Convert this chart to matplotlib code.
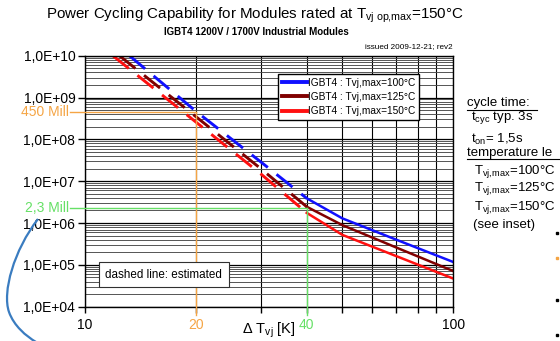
import numpy as np
import matplotlib
matplotlib.use('Agg')
import matplotlib.pyplot as plt
from matplotlib.lines import Line2D
from matplotlib.path import Path
from matplotlib.patches import PathPatch
from matplotlib.ticker import LogLocator, FuncFormatter, NullFormatter

plt.rcParams['font.family'] = ['Liberation Sans', 'DejaVu Sans']
plt.rcParams['mathtext.fontset'] = 'custom'
plt.rcParams['mathtext.rm'] = 'Liberation Sans'
plt.rcParams['mathtext.it'] = 'Liberation Sans:italic'

# ---------------------------------------------------------------
# data (delta T in K, number of cycles)
labels = ['IGBT4 : Tvj,max=100°C', 'IGBT4 : Tvj,max=125°C', 'IGBT4 : Tvj,max=150°C']
colors = ['#1010ff', '#800000', '#ff1010']

dash_dt = [[13.2, 20, 30, 40],
           [12.4, 20, 30, 40],
           [11.9, 20, 30, 40]]
dash_n = [[1.0e10, 4.7e8, 2.9e7, 3.9e6],
          [1.0e10, 3.5e8, 2.0e7, 2.45e6],
          [1.0e10, 2.6e8, 1.5e7, 1.75e6]]

solid_dt = [40, 50, 70, 100]
solid_n = [[3.9e6, 1.29e6, 4.0e5, 1.17e5],
           [2.45e6, 8.9e5, 2.6e5, 7.1e4],
           [1.75e6, 5.2e5, 1.62e5, 4.7e4]]

mark_dt = [20, 40]
mark_n = [4.5e8, 2.3e6]
mark_txt = ['450 Mill', '2,3 Mill']
mark_col = ['#f5a545', '#66e066']

x_ticks = [10, 20, 40, 100]
x_minor = [30, 50, 60, 70, 80, 90]

W, H = 560, 341
def fpx(x, y):
    return x / W, 1 - y / H

# ---------------------------------------------------------------
fig = plt.figure(figsize=(5.6, 3.41), dpi=100)
ax = fig.add_axes([85 / W, 1 - 306.7 / H, 368.3 / W, 251 / H])
ax.set_xscale('log')
ax.set_yscale('log')
ax.set_xlim(10, 100)
ax.set_ylim(1e4, 1e10)

# grid
ax.yaxis.set_major_locator(LogLocator(base=10, numticks=10))
ax.yaxis.set_minor_locator(LogLocator(base=10, subs=np.arange(2, 10), numticks=20))
ax.yaxis.set_minor_formatter(NullFormatter())
ax.yaxis.set_major_formatter(FuncFormatter(lambda v, p: '1,0E+%02d' % round(np.log10(v))))
ax.set_xticks(x_ticks)
ax.set_xticks(x_minor, minor=True)
ax.set_xticklabels([str(t) for t in x_ticks])
ax.xaxis.set_minor_formatter(NullFormatter())
for lab, c in zip(ax.get_xticklabels(), ['black', mark_col[0], mark_col[1], 'black']):
    lab.set_color(c)

ax.grid(which='major', axis='y', color='black', lw=0.9)
ax.grid(which='minor', axis='y', color='#484848', lw=0.65)
ax.grid(which='both', axis='x', color='black', lw=0.8)
ax.set_axisbelow(True)
ax.tick_params(axis='y', which='major', length=5, width=1, labelsize=10, pad=2)
ax.tick_params(axis='y', which='minor', length=0)
ax.tick_params(axis='x', which='both', length=4, width=1, labelsize=10, pad=4)
for s in ax.spines.values():
    s.set_color('black')
    s.set_linewidth(1)

# curves
for i in range(3):
    ax.plot(dash_dt[i], dash_n[i], color=colors[i], lw=2.1, dashes=(7, 3.8),
            solid_capstyle='butt', dash_capstyle='butt')
    ax.plot(solid_dt, solid_n[i], color=colors[i], lw=1.8, label=labels[i])

# reading lines 450 Mill / 2,3 Mill
for i in range(2):
    ax.plot([9.1, mark_dt[i]], [mark_n[i], mark_n[i]], color=mark_col[i], lw=1,
            clip_on=False, zorder=3)
    ax.plot([mark_dt[i], mark_dt[i]], [mark_n[i], 6.5e3], color=mark_col[i], lw=1,
            clip_on=False, zorder=3)
    ax.text(9.05, mark_n[i], mark_txt[i], color=mark_col[i], fontsize=10,
            ha='right', va='center')

leg = ax.legend(loc='upper left', bbox_to_anchor=(0.524, 0.927), borderaxespad=0,
                fontsize=7.3, frameon=True, fancybox=False, edgecolor='black',
                framealpha=1, handlelength=2.5, handletextpad=0.15,
                labelspacing=0.42, borderpad=0.35)
leg.get_frame().set_linewidth(1)
for h in leg.get_lines():
    h.set_linewidth(2.8)

ax.text(0.214, 0.128, 'dashed line: estimated', transform=ax.transAxes,
        fontsize=8.4, ha='center', va='center',
        bbox=dict(boxstyle='square,pad=0.55', fc='white', ec='#303030', lw=0.8))

ax.set_xlabel('Δ T$_{\\mathrm{vj}}$ [K]', fontsize=10.5)
ax.xaxis.set_label_coords(0.5, -0.055)

# titles
fig.text(*fpx(255, 15), 'Power Cycling Capability for Modules rated at T$_{\\mathrm{vj\\ op{,}max}}$=150°C',
         fontsize=10.9, ha='center', va='center')
fig.text(*fpx(256, 32), 'IGBT4 1200V / 1700V Industrial Modules', fontsize=7,
         fontweight='bold', ha='center', va='center')
fig.text(*fpx(453, 47), 'issued 2009-12-21; rev2', fontsize=5.9, ha='right', va='center')

# side notes
notes = [(467, 103, 'cycle time:'),
         (471, 118, 't$_{\\mathrm{cyc}}$ typ. 3s'),
         (471, 139, 't$_{\\mathrm{on}}$= 1,5s'),
         (467, 153, 'temperature le'),
         (474, 171, 'T$_{\\mathrm{vj{,}max}}$=100°C'),
         (474, 189, 'T$_{\\mathrm{vj{,}max}}$=125°C'),
         (474, 207, 'T$_{\\mathrm{vj{,}max}}$=150°C'),
         (473, 225, '(see inset)')]
for x, y, t in notes:
    fig.text(*fpx(x, y), t, fontsize=9.5, ha='left', va='center')
for x0, x1, y in [(467, 537, 110.5), (467, 560, 158.5)]:
    fig.add_artist(Line2D([x0 / W, x1 / W], [1 - y / H, 1 - y / H], color='black', lw=0.8))

# bullets cut at the right edge
for y, c in [(233, 'black'), (258, mark_col[0]), (300, 'black'), (335, 'black')]:
    fig.add_artist(Line2D([557 / W], [1 - y / H], marker='s', ms=1.5, color=c, lw=0))

# hand drawn arc
verts = [fpx(38, 219), fpx(14, 250), fpx(2, 292), fpx(9, 312),
         fpx(14, 326), fpx(26, 336), fpx(36, 342)]
codes = [Path.MOVETO, Path.CURVE4, Path.CURVE4, Path.CURVE4,
         Path.CURVE4, Path.CURVE4, Path.CURVE4]
fig.add_artist(PathPatch(Path(verts, codes), fc='none', ec='#3a7cc0', lw=1.6,
                         transform=fig.transFigure))

fig.savefig('out.png', dpi=100)
